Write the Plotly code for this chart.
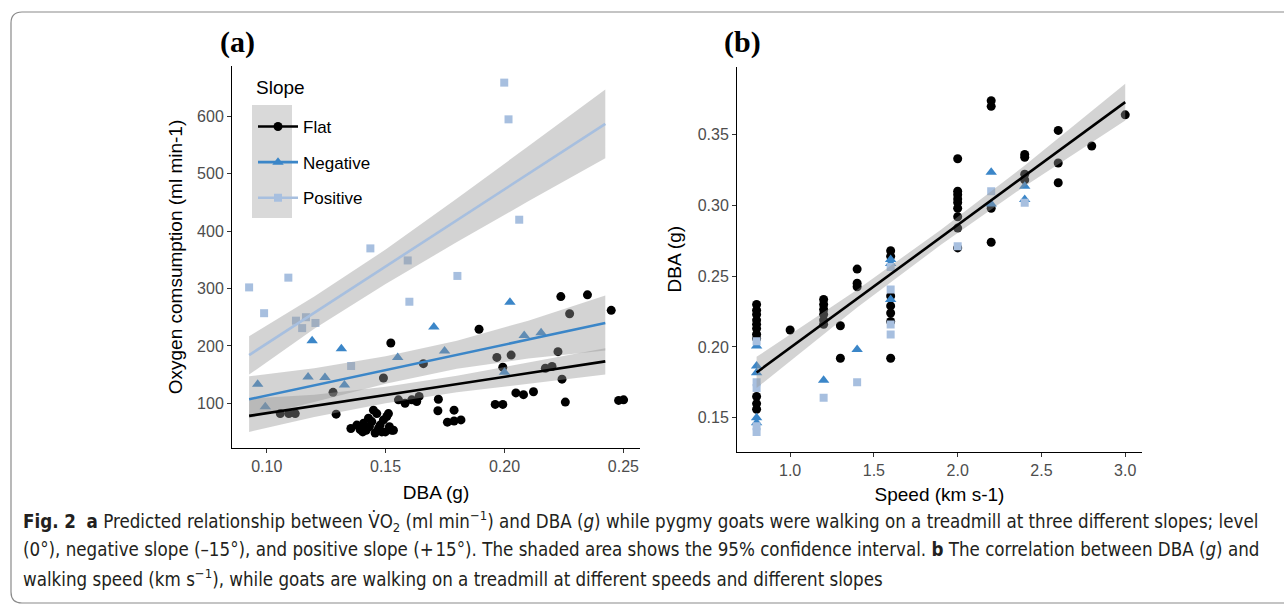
import plotly.graph_objects as go

W, H = 1284, 607

# ---------------- Panel (a) data: DBA (g) vs oxygen consumption ----------------
flat_dba = [0.1057, 0.1093, 0.1120, 0.1279, 0.1292,
            0.1354, 0.1379, 0.1393, 0.1407, 0.1418, 0.1432, 0.1442, 0.1449, 0.1463, 0.1470,
            0.1477, 0.1491, 0.1499, 0.1505, 0.1516, 0.1533, 0.1404, 0.1428, 0.1456, 0.1484,
            0.1512, 0.1526,
            0.1491, 0.1522, 0.1554, 0.1582, 0.1610, 0.1641, 0.1631, 0.1659, 0.1722, 0.1720,
            0.1788, 0.1760, 0.1788, 0.1817, 0.1893, 0.1968, 0.1993, 0.2028, 0.1961, 0.1993,
            0.2048, 0.2080, 0.2122, 0.2172, 0.2200, 0.2225, 0.2237, 0.2242, 0.2256, 0.2274,
            0.2349, 0.2449, 0.2480, 0.2501]
flat_vo2 = [82, 82, 82, 119, 81,
            56, 62, 54, 65, 53, 59, 68, 88, 82, 56,
            62, 71, 50, 77, 59, 53, 50, 74, 48, 50,
            82, 53,
            144, 205, 106, 100, 106, 112, 103, 169, 107, 87,
            88, 67, 69, 71, 229, 180, 163, 184, 98, 98,
            118, 115, 120, 161, 164, 190, 286, 142, 102, 256,
            289, 262, 105, 106]

neg_dba = [0.0962, 0.0994, 0.1174, 0.1191, 0.1245, 0.1314, 0.1327, 0.1551, 0.1703,
           0.1748, 0.2000, 0.2023, 0.2083, 0.2154]
neg_vo2 = [133, 94, 146, 209, 145, 195, 132, 180, 233, 191, 154, 276, 218, 223]

pos_dba = [0.0926, 0.0989, 0.1091, 0.1123, 0.1165, 0.1149, 0.1205, 0.1355, 0.1436,
           0.1593, 0.1600, 0.1802, 0.1999, 0.2017, 0.2062]
pos_vo2 = [302, 257, 319, 244, 250, 231, 240, 165, 370, 349, 277, 322, 659, 595, 420]

# predicted lines and 95% CI
fit_dba = [0.0926, 0.12, 0.15, 0.18, 0.21, 0.2424]
flat_fit = [78, 95.5, 114.5, 133.5, 152.5, 173]
flat_lo = [50, 76, 100, 119, 134, 150]
flat_hi = [108, 115, 129, 148, 171, 196]
neg_fit = [107, 131, 158, 184.5, 211, 240]
neg_lo = [74, 102, 134, 160, 178, 192]
neg_hi = [147, 161, 182, 209, 244, 288]
pos_fit = [184, 258, 338, 419, 500, 587]
pos_lo = [150, 230, 308, 381, 452, 527]
pos_hi = [217, 286, 368, 457, 548, 647]

# ---------------- Panel (b) data: speed vs DBA ----------------
flat_speed = [0.8] * 11 + [1.0] + [1.2] * 6 + [1.3] * 2 + [1.4] * 3 + [1.6] * 7 + \
             [2.0] * 9 + [2.2] * 4 + [2.4] * 4 + [2.6] * 3 + [2.8] + [3.0]
flat_dba_b = [0.230, 0.226, 0.223, 0.219, 0.216, 0.213, 0.209, 0.206, 0.165, 0.160, 0.156,
              0.212,
              0.2335, 0.230, 0.2265, 0.223, 0.219, 0.216,
              0.215, 0.192,
              0.255, 0.245, 0.2425,
              0.268, 0.264, 0.236, 0.229, 0.224, 0.218, 0.192,
              0.333, 0.310, 0.3076, 0.3046, 0.302, 0.298, 0.292, 0.284, 0.270,
              0.374, 0.370, 0.298, 0.274,
              0.336, 0.334, 0.322, 0.318,
              0.353, 0.330, 0.316,
              0.342,
              0.364]
neg_speed = [0.8] * 5 + [1.2] + [1.4] + [1.6] * 3 + [2.2] * 2 + [2.4] * 2
neg_dba_b = [0.2006, 0.1865, 0.1818, 0.150, 0.1465, 0.1765, 0.1982,
             0.2618, 0.259, 0.2335, 0.3234, 0.301, 0.3135, 0.3041]
pos_speed = [0.8] * 5 + [1.2] + [1.4] + [1.6] * 4 + [2.0] + [2.2] + [2.4]
pos_dba_b = [0.204, 0.175, 0.171, 0.144, 0.140, 0.1641, 0.1751,
             0.2565, 0.2406, 0.2159, 0.2088, 0.2712, 0.310, 0.3018]

fit_speed = [0.8, 1.4, 1.9, 2.4, 3.0]
speed_fit = [0.182, 0.2341, 0.2775, 0.3209, 0.373]
speed_lo = [0.171, 0.2278, 0.2722, 0.3136, 0.360]
speed_hi = [0.193, 0.2404, 0.2828, 0.3282, 0.386]

# ---------------- styling ----------------
C_FLAT = "#000000"
C_NEG = "#3b86c8"
C_POS = "#a7bfdf"
RIBBON = "rgba(150,150,150,0.42)"
FONT = "Liberation Sans, Arial, sans-serif"

fig = go.Figure()


def pts(x, y, color, symbol, size, xa, ya):
    fig.add_trace(go.Scatter(x=x, y=y, mode="markers", showlegend=False, hoverinfo="skip",
                             marker=dict(color=color, symbol=symbol, size=size, line=dict(width=0)),
                             xaxis=xa, yaxis=ya))


def band(x, lo, hi, xa, ya):
    fig.add_trace(go.Scatter(x=list(x) + list(x[::-1]), y=list(hi) + list(lo[::-1]),
                             mode="lines", fill="toself", fillcolor=RIBBON, line=dict(width=0),
                             showlegend=False, hoverinfo="skip", xaxis=xa, yaxis=ya))


def fitline(x, y, color, xa, ya):
    fig.add_trace(go.Scatter(x=x, y=y, mode="lines", line=dict(color=color, width=2.6),
                             showlegend=False, hoverinfo="skip", xaxis=xa, yaxis=ya))


# panel a
pts(flat_dba, flat_vo2, C_FLAT, "circle", 9, "x", "y")
pts(neg_dba, neg_vo2, C_NEG, "triangle-up", 10, "x", "y")
pts(pos_dba, pos_vo2, C_POS, "square", 8, "x", "y")
band(fit_dba, flat_lo, flat_hi, "x", "y")
band(fit_dba, neg_lo, neg_hi, "x", "y")
band(fit_dba, pos_lo, pos_hi, "x", "y")
fitline(fit_dba, flat_fit, C_FLAT, "x", "y")
fitline(fit_dba, neg_fit, C_NEG, "x", "y")
fitline(fit_dba, pos_fit, C_POS, "x", "y")

# panel b
pts(flat_speed, flat_dba_b, C_FLAT, "circle", 9, "x2", "y2")
pts(neg_speed, neg_dba_b, C_NEG, "triangle-up", 10, "x2", "y2")
pts(pos_speed, pos_dba_b, C_POS, "square", 8, "x2", "y2")
band(fit_speed, speed_lo, speed_hi, "x2", "y2")
fitline(fit_speed, speed_fit, C_FLAT, "x2", "y2")

# legend entries
for name, col, sym, sz, grp in [("Flat", C_FLAT, "circle", 9, "g1"),
                                ("Negative", C_NEG, "triangle-up", 10, "g2"),
                                ("Positive", C_POS, "square", 8, "g3")]:
    fig.add_trace(go.Scatter(x=[None], y=[None], mode="lines+markers", name=name, legendgroup=grp,
                             line=dict(color=col, width=2.6),
                             marker=dict(color=col, symbol=sym, size=sz), xaxis="x", yaxis="y"))


def px(v):
    return v / W


def py(v):
    return 1 - v / H


axis_common = dict(showline=True, linecolor="#000000", linewidth=1, ticks="outside", ticklen=4,
                   tickcolor="#333333", tickwidth=1, showgrid=False, zeroline=False,
                   tickfont=dict(family=FONT, size=16, color="#4d4d4d"),
                   title_font=dict(family=FONT, size=19, color="#000000"))

fig.update_layout(
    width=W, height=H, margin=dict(l=0, r=0, t=0, b=0),
    paper_bgcolor="white", plot_bgcolor="white",
    xaxis=dict(domain=[px(232), px(640)], range=[0.0854, 0.257], anchor="y",
               tickvals=[0.10, 0.15, 0.20, 0.25], ticktext=["0.10", "0.15", "0.20", "0.25"],
               title=dict(text="DBA (g)", standoff=11), **axis_common),
    yaxis=dict(domain=[py(448), py(66)], range=[22, 688], anchor="x",
               tickvals=[100, 200, 300, 400, 500, 600],
               title=dict(text="Oxygen comsumption (ml min-1)", standoff=9), **axis_common),
    xaxis2=dict(domain=[px(737), px(1142)], range=[0.683, 3.1], anchor="y2",
                tickvals=[1.0, 1.5, 2.0, 2.5, 3.0], ticktext=["1.0", "1.5", "2.0", "2.5", "3.0"],
                title=dict(text="Speed (km s-1)", standoff=9), **axis_common),
    yaxis2=dict(domain=[py(451.7), py(66.7)], range=[0.126, 0.398], anchor="x2",
                tickvals=[0.15, 0.20, 0.25, 0.30, 0.35],
                ticktext=["0.15", "0.20", "0.25", "0.30", "0.35"],
                title=dict(text="DBA (g)", standoff=10), **axis_common),
    legend=dict(x=px(253), y=py(109), xanchor="left", yanchor="top", bgcolor="rgba(0,0,0,0)",
                font=dict(family=FONT, size=17, color="#000000"),
                traceorder="grouped", tracegroupgap=10.5, itemwidth=40),
    showlegend=True,
)

# legend title
fig.add_annotation(text="Slope", xref="paper", yref="paper", x=px(254), y=py(87),
                   showarrow=False, xanchor="left", yanchor="middle",
                   font=dict(family=FONT, size=19, color="#000000"))

# grey background behind legend keys
fig.add_shape(type="rect", xref="paper", yref="paper", x0=px(252), x1=px(292), y0=py(218), y1=py(105),
              fillcolor="#d9d9d9", line=dict(width=0), layer="below")

# outer rounded frame
fig.add_shape(type="path", xref="paper", yref="paper",
              path=f"M {px(1300)},{py(12)} L {px(22)},{py(12)} Q {px(11)},{py(12)} {px(11)},{py(23)} "
                   f"L {px(11)},{py(592)} Q {px(11)},{py(603)} {px(22)},{py(603)} L {px(1300)},{py(603)}",
              line=dict(color="#8a8a8a", width=1.2))

# panel labels
for lab, xpos in [("(a)", 237), ("(b)", 742)]:
    fig.add_annotation(text=f"<b>{lab}</b>", xref="paper", yref="paper", x=px(xpos), y=py(42),
                       showarrow=False, xanchor="center", yanchor="middle",
                       font=dict(family="Liberation Serif, Times New Roman, serif", size=30, color="#000000"))

# caption
CAP_FONT = "Liberation Sans Narrow, DejaVu Sans Condensed, Arial Narrow, sans-serif"
cap_lines = [
    "<b>Fig. 2</b>  <b>a</b> Predicted relationship between V\u0307O<sub>2</sub> (ml min<sup>\u22121</sup>) and DBA (<i>g</i>) "
    "while pygmy goats were walking on a treadmill at three different slopes; level",
    "(0°), negative slope (\u201315°), and positive slope (+\u200a15°). The shaded area shows the 95% confidence interval. "
    "<b>b</b> The correlation between DBA (<i>g</i>) and",
    "walking speed (km s<sup>\u22121</sup>), while goats are walking on a treadmill at different speeds and different slopes",
]
for i, line in enumerate(cap_lines):
    fig.add_annotation(text=line, xref="paper", yref="paper", x=px(21), y=py(521 + 28.5 * i),
                       showarrow=False, xanchor="left", yanchor="middle", align="left",
                       font=dict(family=CAP_FONT, size=18.6, color="#231f20"))

fig.write_html("out.html", config={"displayModeBar": False},
               post_script="document.body.style.margin='0px';")
